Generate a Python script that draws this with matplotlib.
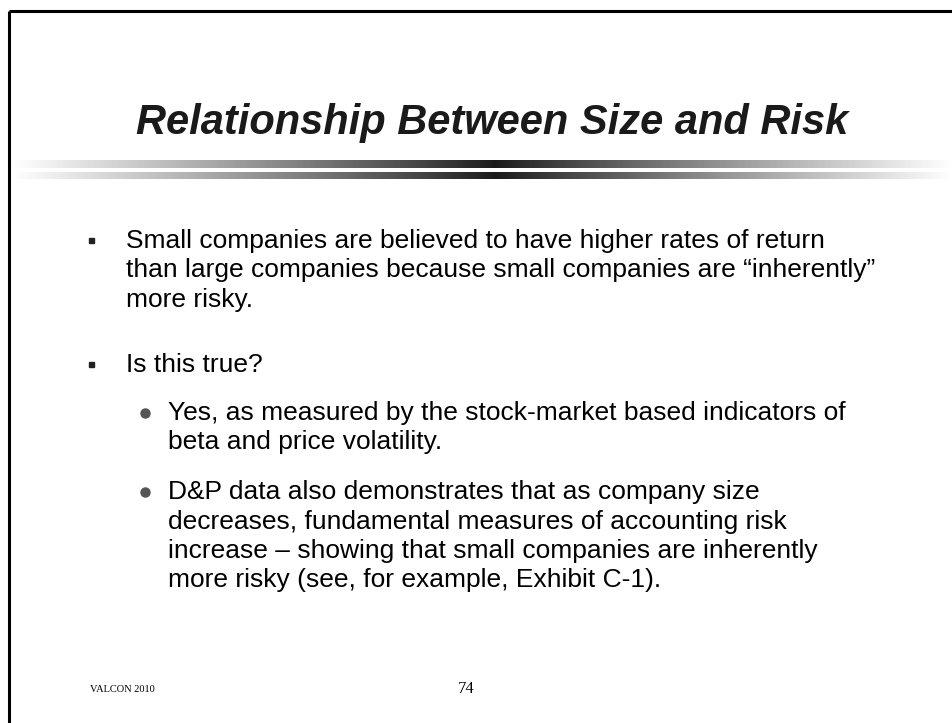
import numpy as np
import matplotlib
matplotlib.use("Agg")
import matplotlib.pyplot as plt
from matplotlib.patches import Rectangle

# ---------------------------------------------------------------------------
# Slide content
# ---------------------------------------------------------------------------

TITLE = "Relationship Between Size and Risk"

MAIN_BULLETS = [
    ["Small companies are believed to have higher rates of return",
     "than large companies because small companies are \u201cinherently\u201d",
     "more risky."],
    ["Is this true?"],
]
SUB_BULLETS = [
    ["Yes, as measured by the stock-market based indicators of",
     "beta and price volatility."],
    ["D&P data also demonstrates that as company size",
     "decreases, fundamental measures of accounting risk",
     "increase \u2013 showing that small companies are inherently",
     "more risky (see, for example, Exhibit C-1)."],
]
FOOTER_LEFT = "VALCON 2010"
PAGE_NUMBER = "74"

W, H = 953, 723
SANS = "Liberation Sans"
SERIF = "Liberation Serif"
BODY_SIZE = 19

fig = plt.figure(figsize=(W / 100, H / 100), dpi=100)
ax = fig.add_axes([0, 0, 1, 1])

# frame (top and left edges only visible)
ax.plot([9, W], [11, 11], color="black", lw=2.2, solid_capstyle="butt")
ax.plot([9, 9], [11, H], color="black", lw=2.2, solid_capstyle="butt")

# title
ax.text(W / 2 + 16, 123, TITLE, fontsize=30, fontweight="bold", style="italic",
        family=SANS, color="#1a1a1a", ha="center", va="center")

# double gradient rule under the title
x = np.linspace(0, 1, 600)
center = 490 / W
shade = np.abs(x - center) / np.where(x < center, center, 1 - center)
shade = 0.1 + 0.9 * shade ** 0.9
grad = np.tile(shade, (2, 1))
for y0, y1 in [(160, 168), (172, 179)]:
    ax.imshow(grad, cmap="gray", vmin=0, vmax=1, aspect="auto",
              extent=(12, W, y1, y0), interpolation="bilinear")

ax.set_xlim(0, W)
ax.set_ylim(H, 0)
ax.axis("off")

# main bullets
line_h = 29.5
main_y = [241, 365]
for y, lines in zip(main_y, MAIN_BULLETS):
    ax.add_patch(Rectangle((89, y - 3), 5, 5, color="#222222"))
    for i, line in enumerate(lines):
        ax.text(126, y + i * line_h, line, fontsize=BODY_SIZE, family=SANS,
                color="black", ha="left", va="center")

# sub bullets
sub_y = [413, 492]
for y, lines in zip(sub_y, SUB_BULLETS):
    ax.plot(145, y, "o", color="#555555", ms=6.5)
    for i, line in enumerate(lines):
        ax.text(168, y + i * line_h, line, fontsize=BODY_SIZE, family=SANS,
                color="black", ha="left", va="center")

# footer
ax.text(90, 690, FOOTER_LEFT, fontsize=7.5, family=SERIF, color="black",
        ha="left", va="center")
ax.text(466, 689, PAGE_NUMBER, fontsize=12, family=SERIF, color="black",
        ha="center", va="center")

fig.savefig("out.png", dpi=100)
